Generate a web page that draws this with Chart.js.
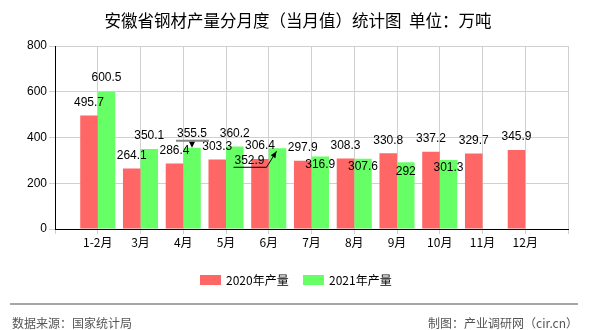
<!DOCTYPE html>
<html lang="zh-CN">
<head>
<meta charset="UTF-8">
<style>
  html, body { margin: 0; padding: 0; background: #fff; }
  #wrap { width: 590px; height: 330px; position: relative; }
</style>
<script src="https://cdn.jsdelivr.net/npm/chart.js"></script>
</head>
<body>
<div id="wrap"><canvas id="steelChart" width="590" height="330"></canvas></div>
<script>
// values
const months = ['1-2月', '3月', '4月', '5月', '6月', '7月', '8月', '9月', '10月', '11月', '12月'];
const output2020 = [495.7, 264.1, 286.4, 303.3, 306.4, 297.9, 308.3, 330.8, 337.2, 329.7, 345.9];
const output2021 = [600.5, 350.1, 355.5, 360.2, 352.9, 316.9, 307.6, 292, 301.3, null, null];
const yTicks = [0, 200, 400, 600, 800];

// label placement for the 2021 series (the original shifts a few labels to avoid overlaps)
const labelDx2021 = [0, 0, 0, 0, -28, 0, 0, 0, 0, 0, 0];
const labelDy2021 = [-14, -13, -14, -13, 12, 8, 8, 9, 8, 0, 0];
const leader2021 = [null, null, 'mark', null, 'arrow', null, null, null, null, null, null];

const CJK = '"Noto Sans CJK SC", "Liberation Sans", sans-serif';
const NUM = '"Liberation Sans", Arial, sans-serif';

// empty slot on each side, like the original axis
const xLabels = [''].concat(months, ['']);
const pad = arr => [null].concat(arr, [null]);

const valueLabels = {
    id: 'valueLabels',
    afterDatasetsDraw(chart) {
        const ctx = chart.ctx;
        ctx.save();
        ctx.font = '12px ' + NUM;
        ctx.fillStyle = '#000';
        ctx.textAlign = 'center';
        ctx.textBaseline = 'middle';
        chart.data.datasets.forEach((ds, di) => {
            const meta = chart.getDatasetMeta(di);
            meta.data.forEach((bar, i) => {
                const v = ds.data[i];
                if (v === null || v === undefined) return;
                const k = i - 1;
                let dx = 0, dy = -13, lead = null;
                if (di === 1) { dx = labelDx2021[k]; dy = labelDy2021[k]; lead = leader2021[k]; }
                const x = bar.x + dx, y = bar.y + dy;
                ctx.fillText(String(v), x, y);
                if (lead === 'mark') {
                    ctx.strokeStyle = '#888';
                    ctx.lineWidth = 2;
                    ctx.beginPath();
                    ctx.moveTo(x - 16, y + 7); ctx.lineTo(x + 17, y + 7);
                    ctx.stroke();
                    ctx.fillStyle = '#000';
                    ctx.beginPath();
                    ctx.moveTo(bar.x - 3, y + 8); ctx.lineTo(bar.x + 3, y + 8); ctx.lineTo(bar.x, bar.y);
                    ctx.closePath(); ctx.fill();
                } else if (lead === 'arrow') {
                    ctx.strokeStyle = '#000';
                    ctx.lineWidth = 1;
                    const ex = bar.x - 1, ey = bar.y + 3;
                    ctx.beginPath();
                    ctx.moveTo(x - 16, y + 7); ctx.lineTo(x + 17, y + 7); ctx.lineTo(ex, ey);
                    ctx.stroke();
                    const a = Math.atan2(ey - (y + 7), ex - (x + 17));
                    ctx.fillStyle = '#000';
                    ctx.beginPath();
                    ctx.moveTo(ex, ey);
                    ctx.lineTo(ex - 7 * Math.cos(a - 0.4), ey - 7 * Math.sin(a - 0.4));
                    ctx.lineTo(ex - 7 * Math.cos(a + 0.4), ey - 7 * Math.sin(a + 0.4));
                    ctx.closePath(); ctx.fill();
                }
            });
        });
        ctx.restore();
    }
};

const frame = {
    id: 'frame',
    afterDraw(chart) {
        const ctx = chart.ctx;
        ctx.save();
        // title
        ctx.fillStyle = '#000';
        ctx.font = '16.5px ' + CJK;
        ctx.textAlign = 'center';
        ctx.textBaseline = 'middle';
        ctx.fillText('安徽省钢材产量分月度（当月值）统计图  单位：万吨', 298, 21);

        // legend
        ctx.font = '12px ' + CJK;
        ctx.textAlign = 'left';
        const lx = [200, 303];
        chart.data.datasets.forEach((ds, i) => {
            ctx.fillStyle = ds.backgroundColor;
            ctx.fillRect(lx[i], 275, 21, 10);
            ctx.fillStyle = '#000';
            ctx.fillText(ds.label, lx[i] + 26, 280);
        });

        // footer
        ctx.strokeStyle = '#888';
        ctx.lineWidth = 1.5;
        ctx.beginPath();
        ctx.moveTo(10, 304); ctx.lineTo(578, 304);
        ctx.stroke();
        ctx.fillStyle = '#555';
        ctx.font = '12px ' + CJK;
        ctx.fillText('数据来源：国家统计局', 12, 323);
        ctx.textAlign = 'right';
        ctx.fillText('制图：产业调研网（cir.cn）', 578, 323);
        ctx.restore();
    }
};

new Chart(document.getElementById('steelChart'), {
    type: 'bar',
    data: {
        labels: xLabels,
        datasets: [
            { label: '2020年产量', data: pad(output2020), backgroundColor: '#FF6666' },
            { label: '2021年产量', data: pad(output2021), backgroundColor: '#66FF66' }
        ]
    },
    options: {
        responsive: false,
        animation: false,
        events: [],
        layout: { padding: { left: 0, right: 22, top: 46, bottom: 79 } },
        datasets: { bar: { categoryPercentage: 0.82, barPercentage: 1 } },
        plugins: { legend: { display: false }, title: { display: false }, tooltip: { enabled: false } },
        scales: {
            x: {
                type: 'category',
                offset: false,
                grid: { offset: false, color: '#d0d0d0', tickLength: 5 },
                border: { color: '#000' },
                ticks: { color: '#000', font: { size: 12, family: CJK }, padding: 1, autoSkip: false, maxRotation: 0 },
                afterFit(scale) { scale.height = 22; }
            },
            y: {
                min: yTicks[0],
                max: yTicks[yTicks.length - 1],
                grid: { color: '#d0d0d0', tickLength: 6 },
                border: { color: '#000' },
                ticks: { stepSize: yTicks[1] - yTicks[0], color: '#000', font: { size: 12, family: NUM }, padding: 2 },
                afterFit(scale) { scale.width = 55; }
            }
        }
    },
    plugins: [valueLabels, frame]
});
</script>
</body>
</html>
